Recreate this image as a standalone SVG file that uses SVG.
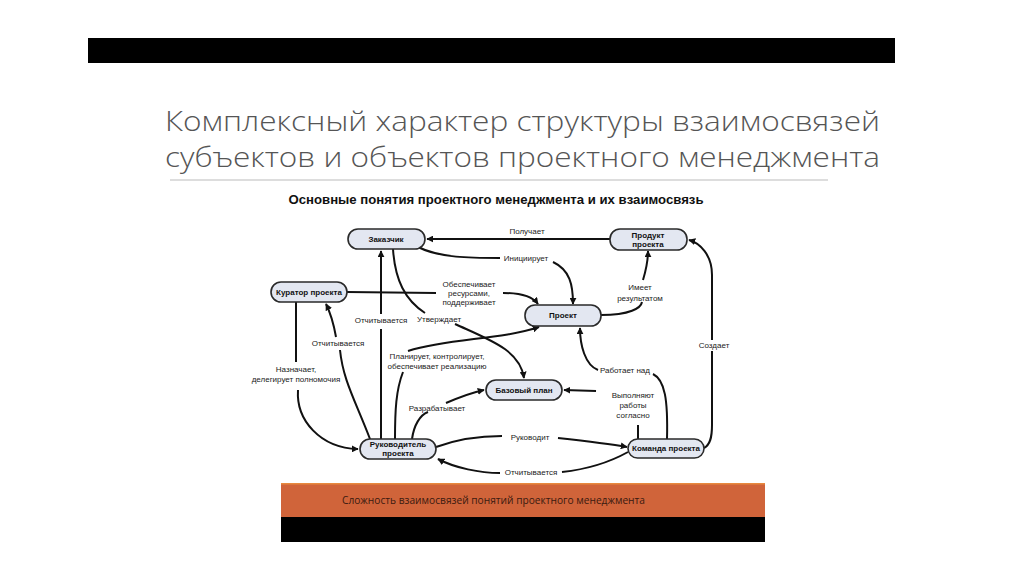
<svg xmlns="http://www.w3.org/2000/svg" width="1024" height="574" viewBox="0 0 1024 574">
<defs>
<marker id="ah" viewBox="0 0 10 10" refX="9" refY="5" markerWidth="7" markerHeight="7" orient="auto" markerUnits="userSpaceOnUse">
<path d="M0,0 L10,5 L0,10 Z" fill="#111"/>
</marker>
<style>
.node rect{fill:#e3e7f1;stroke:#2a2a2a;stroke-width:1.6}
.node text{font-family:"Liberation Sans",Arial,sans-serif;font-size:8px;font-weight:bold;fill:#111;text-anchor:middle}
.edges path{fill:none;stroke:#111;stroke-width:2}
.lbl{font-family:"Liberation Sans",Arial,sans-serif;font-size:8px;fill:#222;text-anchor:middle}
.bg{fill:#fff}
.title{font-family:"Open Sans","Noto Sans",sans-serif;font-weight:300;font-size:28px;fill:#555}
</style>
</defs>
<rect width="1024" height="574" fill="#fff"/>
<rect x="88" y="38" width="807" height="25" fill="#000"/>
<text class="title" x="165" y="131" textLength="715" lengthAdjust="spacingAndGlyphs">Комплексный характер структуры взаимосвязей</text>
<text class="title" x="165" y="167" textLength="715" lengthAdjust="spacingAndGlyphs">субъектов и объектов проектного менеджмента</text>
<line x1="170" y1="180" x2="828" y2="180" stroke="#bbb" stroke-width="1"/>
<text x="496" y="204" font-family="Liberation Sans,Arial,sans-serif" font-size="12.5" font-weight="bold" fill="#111" text-anchor="middle" textLength="415" lengthAdjust="spacingAndGlyphs">Основные понятия проектного менеджмента и их взаимосвязь</text>

<g class="edges">
<path d="M610,239 L427,239" marker-end="url(#ah)"/>
<path d="M418,247 C440,258 470,258 500,258"/>
<path d="M553,262 C570,270 573,285 573,304" marker-end="url(#ah)"/>
<path d="M347,292 L436,293"/>
<path d="M503,293 C520,293 532,296 538,304" marker-end="url(#ah)"/>
<path d="M601,315 C630,315 641,308 642,302"/>
<path d="M643,280 C646,270 648,262 648,251" marker-end="url(#ah)"/>
<path d="M393,249 C395,280 405,300 425,313"/>
<path d="M455,324 C490,340 520,350 524,378" marker-end="url(#ah)"/>
<path d="M381,439 L381,329"/>
<path d="M381,314 L381,251" marker-end="url(#ah)"/>
<path d="M370,439 C355,400 343,380 340,350"/>
<path d="M336,337 C333,320 330,312 326,304" marker-end="url(#ah)"/>
<path d="M296,302 L296,362"/>
<path d="M298,390 C296,420 320,448 358,449" marker-end="url(#ah)"/>
<path d="M395,439 C395,410 396,390 403,372"/>
<path d="M408,351 C450,338 500,340 539,327" marker-end="url(#ah)"/>
<path d="M412,439 C414,425 420,415 428,412"/>
<path d="M446,403 C460,397 470,393 484,390" marker-end="url(#ah)"/>
<path d="M436,447 C455,440 475,436 502,436"/>
<path d="M558,438 C585,441 610,444 627,447" marker-end="url(#ah)"/>
<path d="M628,452 C610,462 590,469 562,472"/>
<path d="M500,473 C480,473 455,468 438,459" marker-end="url(#ah)"/>
<path d="M638,439 L638,425"/>
<path d="M596,391 L564,390" marker-end="url(#ah)"/>
<path d="M667,439 C668,400 665,380 653,374"/>
<path d="M598,370 C585,365 580,345 580,328" marker-end="url(#ah)"/>
<path d="M704,448 C710,445 712,438 712,425 L712,275 C712,255 700,243 689,240" marker-end="url(#ah)"/>
</g>

<g id="labels">
<text class="lbl" x="527" y="234">Получает</text>
<text class="lbl" x="526" y="261">Инициирует</text>
<text class="lbl" x="469" y="287">Обеспечивает</text>
<text class="lbl" x="469" y="296">ресурсами,</text>
<text class="lbl" x="469" y="305">поддерживает</text>
<text class="lbl" x="640" y="290">Имеет</text>
<text class="lbl" x="640" y="301">результатом</text>
<rect class="bg" x="358" y="315" width="48" height="10"/>
<text class="lbl" x="381" y="323">Отчитывается</text>
<text class="lbl" x="439" y="322">Утверждает</text>
<text class="lbl" x="338" y="346">Отчитывается</text>
<text class="lbl" x="296" y="372">Назначает,</text>
<text class="lbl" x="296" y="382">делегирует полномочия</text>
<text class="lbl" x="437" y="359">Планирует, контролирует,</text>
<text class="lbl" x="437" y="369">обеспечивает реализацию</text>
<text class="lbl" x="437" y="411">Разрабатывает</text>
<text class="lbl" x="530" y="440">Руководит</text>
<text class="lbl" x="531" y="475">Отчитывается</text>
<text class="lbl" x="633" y="398">Выполняют</text>
<text class="lbl" x="633" y="408">работы</text>
<text class="lbl" x="633" y="418">согласно</text>
<text class="lbl" x="625" y="373">Работает над</text>
<rect class="bg" x="700" y="340" width="28" height="11"/>
<text class="lbl" x="714" y="348">Создает</text>
</g>

<g id="zakazchik" class="node"><rect x="348" y="229" width="77" height="20" rx="10"/><text x="386" y="242">Заказчик</text></g>
<g id="produkt" class="node"><rect x="610" y="229" width="77" height="21" rx="10"/><text x="648" y="238">Продукт</text><text x="648" y="247">проекта</text></g>
<g id="kurator" class="node"><rect x="271" y="282" width="76" height="20" rx="10"/><text x="309" y="295">Куратор проекта</text></g>
<g id="proekt" class="node"><rect x="525" y="305" width="76" height="21" rx="10"/><text x="563" y="318">Проект</text></g>
<g id="bazplan" class="node"><rect x="486" y="380" width="76" height="20" rx="10"/><text x="524" y="393">Базовый план</text></g>
<g id="rukovoditel" class="node"><rect x="360" y="439" width="76" height="20" rx="10"/><text x="398" y="447">Руководитель</text><text x="398" y="456">проекта</text></g>
<g id="komanda" class="node"><rect x="628" y="439" width="76" height="19" rx="9.5"/><text x="666" y="451">Команда проекта</text></g>

<rect x="281" y="483" width="484" height="34" fill="#d0643a"/>
<rect x="281" y="483" width="484" height="1.5" fill="#e8893f"/>
<rect x="281" y="517" width="484" height="25" fill="#000"/>
<text x="342" y="504" font-family="Open Sans,Noto Sans,sans-serif" font-size="11" fill="#3a1a10" textLength="303" lengthAdjust="spacingAndGlyphs">Сложность взаимосвязей понятий проектного менеджмента</text>
</svg>
